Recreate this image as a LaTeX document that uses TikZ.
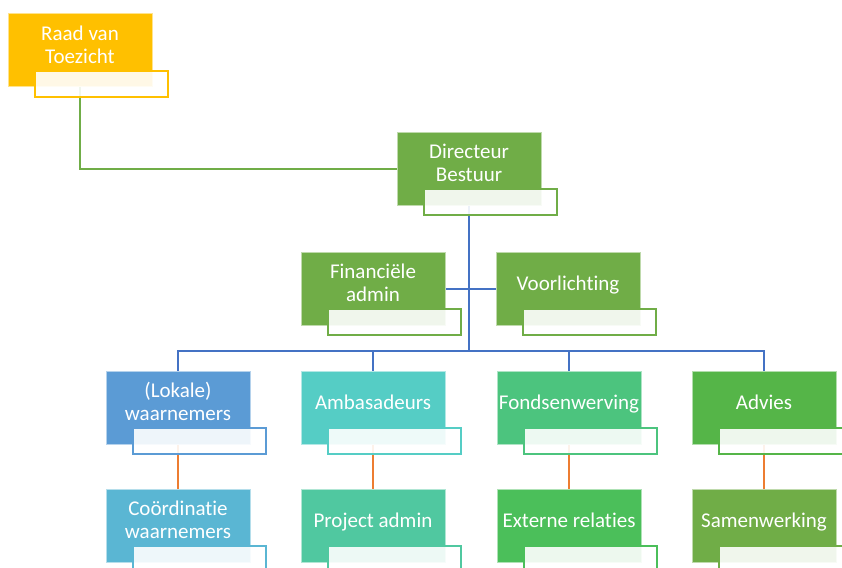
\documentclass[tikz,border=0pt]{standalone}
\usepackage{fontspec}
\setmainfont{Carlito}[Ligatures=NoCommon]
\usetikzlibrary{backgrounds}
\definecolor{cgold}{HTML}{FFC000}
\definecolor{cgreen}{HTML}{70AD47}
\definecolor{cblue}{HTML}{5B9BD5}
\definecolor{cteal}{HTML}{55CDC5}
\definecolor{cfonds}{HTML}{4CC47E}
\definecolor{cadvies}{HTML}{55B548}
\definecolor{ccoord}{HTML}{5AB6D3}
\definecolor{cproj}{HTML}{50C8A0}
\definecolor{cext}{HTML}{4BBF5A}
\definecolor{lblue}{HTML}{4472C4}
\definecolor{lorange}{HTML}{ED7D31}
\newcommand\orgbox[5]{%
  \node[mainbox, fill=#4, draw=#4!45!white] (#1) at (#2+72,#3+36.5) {};
  \node[subbox, draw=#4] (#1s) at (#2+93.5,#3+70) {};
  \node[boxtext] (#1t) at (#2+72,#3+33.5) {\strut #5\strut};
}
\begin{document}
\begin{tikzpicture}[x=1pt,y=-1pt,
  mainbox/.style={rectangle, minimum width=144pt, minimum height=73pt, inner sep=0pt, outer sep=0pt, line width=1pt},
  subbox/.style={rectangle, minimum width=133pt, minimum height=26pt, inner sep=0pt, outer sep=0pt, line width=1.8pt, fill=white, fill opacity=0.9, draw opacity=1},
  boxtext/.style={text=white, align=center, inner sep=0pt, font=\fontsize{21}{23}\selectfont},
  conn/.style={line width=2pt}]
\useasboundingbox (0,0) rectangle (842,567);
\orgbox{raad}{8}{14}{cgold}{Raad van\\Toezicht}
\orgbox{dir}{397}{132}{cgreen}{Directeur\\Bestuur}
\orgbox{fin}{301}{252}{cgreen}{Financiële\\admin}
\orgbox{voor}{496}{252}{cgreen}{Voorlichting}
\orgbox{lok}{106}{371}{cblue}{(Lokale)\\waarnemers}
\orgbox{amb}{301}{371}{cteal}{Ambasadeurs}
\orgbox{fon}{497}{371}{cfonds}{Fondsenwerving}
\orgbox{adv}{692}{371}{cadvies}{Advies}
\orgbox{coo}{106}{489}{ccoord}{Coördinatie\\waarnemers}
\orgbox{pro}{301}{489}{cproj}{Project admin}
\orgbox{ext}{497}{489}{cext}{Externe relaties}
\orgbox{sam}{692}{489}{cgreen}{Samenwerking}
\coordinate (bus) at (470,351);
\begin{scope}[on background layer]
  \draw[conn, cgreen] (raad.south) |- (dir.west);
  \draw[conn, lblue] (fin.east) -- (voor.west);
  \draw[conn, lblue] (dir.south) -- (dir.south |- bus);
  \foreach \n in {lok,amb,fon,adv} {
    \draw[conn, lblue] (dir.south |- bus) -| (\n.north);
  }
  \draw[conn, lorange] (lok.south) -- (coo.north);
  \draw[conn, lorange] (amb.south) -- (pro.north);
  \draw[conn, lorange] (fon.south) -- (ext.north);
  \draw[conn, lorange] (adv.south) -- (sam.north);
\end{scope}
\end{tikzpicture}
\end{document}
